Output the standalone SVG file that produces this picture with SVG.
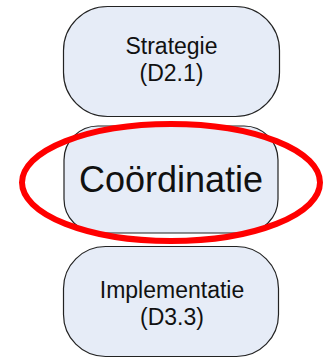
<svg xmlns="http://www.w3.org/2000/svg" width="323" height="359" viewBox="0 0 323 359">
  <style>
    .box { fill: #E6ECF7; stroke: #222; stroke-width: 1.2; }
    .lbl { font-family: "Liberation Sans", Arial, sans-serif; font-size: 23px; fill: #111; text-anchor: middle; }
    .big { font-size: 36px; }
    .mark { fill: none; stroke: #FF0000; stroke-width: 6; }
  </style>
  <rect width="323" height="359" fill="#FFFFFF"/>

  <g id="strategie">
    <rect class="box" x="63.5" y="6.5" width="216" height="110" rx="44" ry="44"/>
    <text class="lbl" x="171.5" y="54">Strategie</text>
    <text class="lbl" x="171.5" y="81">(D2.1)</text>
  </g>

  <g id="coordinatie">
    <rect class="box" x="64" y="126" width="214" height="107" rx="34" ry="34"/>
    <text class="lbl big" x="171" y="192">Coördinatie</text>
  </g>

  <g id="implementatie">
    <rect class="box" x="63.5" y="246.5" width="215" height="110" rx="42" ry="42"/>
    <text class="lbl" x="172" y="298">Implementatie</text>
    <text class="lbl" x="172" y="325">(D3.3)</text>
  </g>

  <g id="connectors">
    <!-- red highlight ring around the middle node -->
    <ellipse class="mark" cx="171" cy="182.5" rx="149" ry="58.5"/>
  </g>
</svg>
